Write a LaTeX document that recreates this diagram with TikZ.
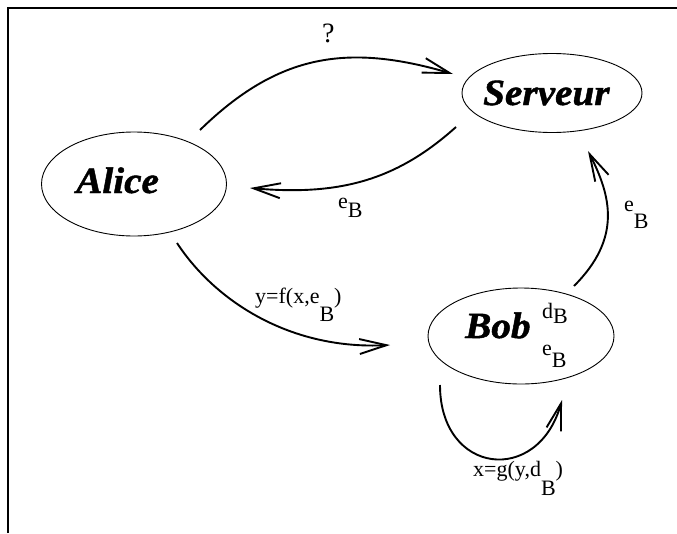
\documentclass[tikz,border=0pt]{standalone}
\usepackage{fontspec}
\setmainfont{Liberation Serif}
\newfontfamily\namefont[FakeBold=1.2]{Liberation Serif Bold Italic}
\usetikzlibrary{shapes.geometric,arrows.meta}
\tikzset{
  ell/.style={draw, ellipse, line width=0.9pt, inner sep=0pt},
  nm/.style={inner sep=0pt, anchor=base west, font=\fontsize{37}{42}\namefont},
  lab/.style={inner sep=0pt, anchor=base west, font=\fontsize{22}{26}\selectfont},
  arr/.style={line width=1.9pt, -{Straight Barb[length=27pt,width=15pt]}},
  framestyle/.style={line width=1.4pt}
}
\newcommand{\hs}[1]{\scalebox{1.06}[1]{#1}}
\begin{document}
\begin{tikzpicture}[x=1pt,y=-1pt]
\useasboundingbox (0,0) rectangle (677,533);
\fill[white] (0,0) rectangle (677,533);
\coordinate (f0) at (8,533);
\coordinate (f1) at (8,8);
\coordinate (f2) at (677,8);
\draw[framestyle] (f0) -- (f1) -- (f2);
% ellipses
\node[ell, minimum width=185pt, minimum height=104pt] (alice) at (134,184) {};
\node[ell, minimum width=180pt, minimum height=79pt] (serveur) at (552,93) {};
\node[ell, minimum width=186pt, minimum height=96pt] (bob) at (521,336) {};
% names
\node[nm] (alicet) at (76,193) {\hs{Alice}};
\node[nm] (serveurt) at (483,105) {\hs{Serveur}};
\node[nm] (bobt) at (465,338) {\hs{Bob}};
\node[lab] (bd) at (542,318) {d\raisebox{-5pt}{B}};
\node[lab] (be) at (542,355) {e\raisebox{-12pt}{B}};
% connector end points
\coordinate (a1) at (200,130);
\coordinate (s1) at (453,74);
\coordinate (s2) at (456,127);
\coordinate (a2) at (250,188);
\coordinate (a3) at (177,243);
\coordinate (b1) at (390,345);
\coordinate (b2) at (574,286);
\coordinate (s3) at (588,151);
\coordinate (b3) at (440,385);
\coordinate (b4) at (562,400);
% connectors
\draw[arr] (a1) .. controls (278,54) and (347,43) .. (s1);
\draw[arr] (s2) .. controls (397,180) and (340,196) .. (a2);
\draw[arr] (a3) .. controls (215,301) and (290,350) .. (b1);
\draw[arr] (b2) .. controls (622,238) and (611,196) .. (s3);
\draw[arr] (b3) .. controls (440,475) and (538,486) .. (b4);
% labels
\node[lab, font=\fontsize{28}{30}\selectfont] (q) at (322,42) {?};
\node[lab] (l1) at (338,208) {e\raisebox{-9pt}{B}};
\node[lab] (l2) at (624,211) {e\raisebox{-17pt}{B}};
\node[lab] (l3) at (255,303) {y=f(x,e\raisebox{-18pt}{B})};
\node[lab] (l4) at (473,476) {x=g(y,d\raisebox{-19pt}{B})};
\end{tikzpicture}
\end{document}
